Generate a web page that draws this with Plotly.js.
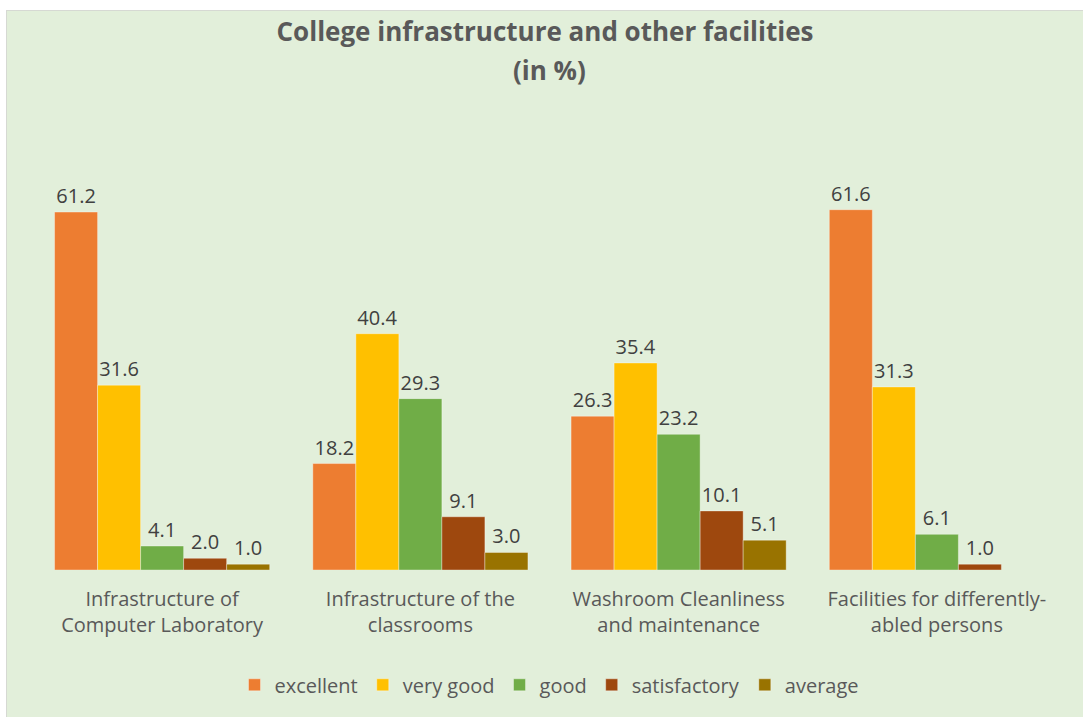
<!DOCTYPE html>
<html>
<head>
<meta charset="utf-8">
<script src="https://cdn.plot.ly/plotly-3.0.1.min.js"></script>
<style>
  html, body { margin: 0; padding: 0; background: #ffffff; width: 1083px; height: 717px; overflow: hidden; }
  #frame { position: absolute; left: 6px; top: 10px; width: 1077px; height: 707px;
           border-left: 1px solid #d6d9d3; border-top: 1px solid #d6d9d3; background: #E2EFDA; }
  #chart { width: 1076px; height: 706px; }
</style>
</head>
<body>
<div id="frame"><div id="chart"></div></div>
<script>
const categories = [
  "Infrastructure of<br>Computer Laboratory",
  "Infrastructure of the<br>classrooms",
  "Washroom Cleanliness<br>and maintenance",
  "Facilities for differently-<br>abled persons"
];
const seriesNames = ["excellent", "very good", "good", "satisfactory", "average"];
const excellent    = [61.2, 18.2, 26.3, 61.6];
const veryGood     = [31.6, 40.4, 35.4, 31.3];
const good         = [4.1, 29.3, 23.2, 6.1];
const satisfactory = [2.0, 9.1, 10.1, 1.0];
const average      = [1.0, 3.0, 5.1, null];
const seriesValues = [excellent, veryGood, good, satisfactory, average];
const colors = ["#ED7D31", "#FFC000", "#70AD47", "#9E480E", "#997300"];
const titleLine1 = "College infrastructure and other facilities";
const titleLine2 = "(in %)";

const FONT = "Open Sans, Noto Sans, sans-serif";

const traces = seriesNames.map((name, i) => ({
  type: "bar",
  name: name,
  x: categories,
  y: seriesValues[i],
  marker: { color: colors[i], line: { color: "rgba(255,255,255,0.45)", width: 0.8 } },
  texttemplate: "%{y:.1f}",
  textposition: "outside",
  textfont: { family: FONT, size: 20, color: "#404040" },
  cliponaxis: false,
  hoverinfo: "skip"
}));

const layout = {
  width: 1076,
  height: 706,
  paper_bgcolor: "#E2EFDA",
  plot_bgcolor: "#E2EFDA",
  margin: { l: 26, r: 17, t: 149, b: 147 },
  barmode: "group",
  bargap: 0.167,
  bargroupgap: 0,
  title: {
    text: "<b>" + titleLine1 + "</b>",
    x: 0.5, xanchor: "center",
    y: 0.970, yanchor: "middle",
    font: { family: FONT, size: 26, color: "#595959" }
  },
  annotations: [{
    text: "<b>" + titleLine2 + "</b>",
    xref: "paper", yref: "paper",
    x: 0.5, xanchor: "center",
    y: 1.219, yanchor: "middle",
    showarrow: false,
    font: { family: FONT, size: 26, color: "#595959" }
  }],
  xaxis: {
    showgrid: false, zeroline: false, showline: false,
    ticks: "", ticklabelstandoff: 15,
    tickfont: { family: FONT, size: 20, color: "#595959" }
  },
  yaxis: {
    range: [0, 70.1],
    visible: false, showgrid: false, zeroline: false
  },
  showlegend: true,
  legend: {
    orientation: "h",
    x: 0.5, xanchor: "center",
    y: -0.28, yanchor: "middle",
    font: { family: FONT, size: 20, color: "#595959" },
    bgcolor: "rgba(0,0,0,0)",
    itemwidth: 30,
    traceorder: "normal"
  }
};

Plotly.newPlot("chart", traces, layout, { displayModeBar: false, staticPlot: true });
</script>
</body>
</html>
